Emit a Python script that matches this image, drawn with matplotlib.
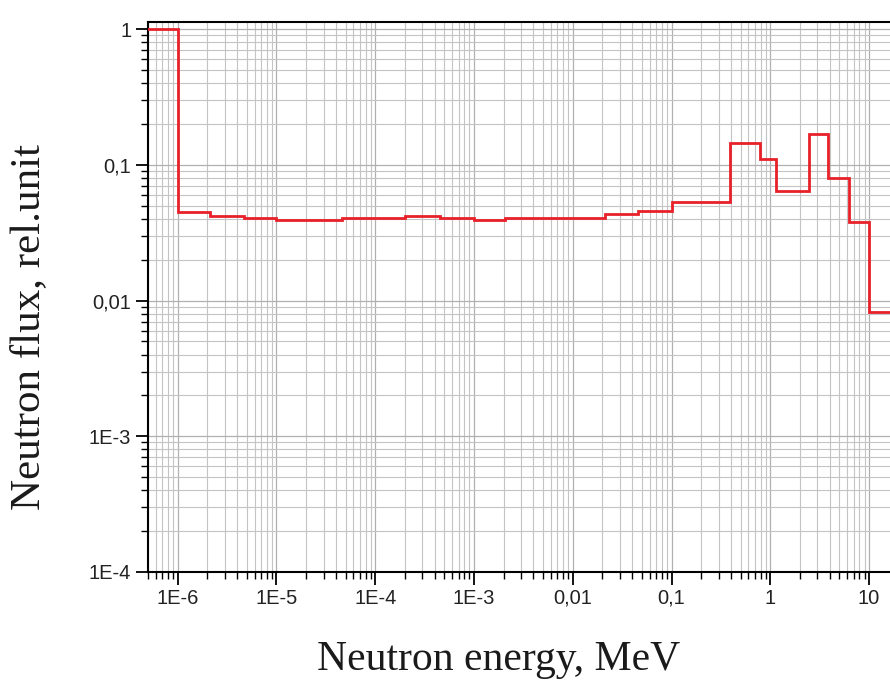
import matplotlib
matplotlib.use("Agg")
import matplotlib.pyplot as plt
import numpy as np
from matplotlib.ticker import LogLocator, FixedLocator, FixedFormatter, NullFormatter

# Group boundaries (MeV) and flux per group (relative units)
energy_edges = [1e-7, 1e-6, 2.1e-6, 4.7e-6, 1e-5, 4.6e-5, 2e-4, 4.5e-4, 1e-3, 2.06e-3,
                0.021, 0.046, 0.1, 0.39, 0.79, 1.15, 2.46, 3.86, 6.3, 10, 20]
flux = [1.0, 0.0448, 0.0417, 0.0403, 0.0393, 0.0407, 0.042, 0.0407, 0.0393, 0.0407,
        0.0435, 0.0456, 0.0531, 0.144, 0.110, 0.0637, 0.168, 0.0794, 0.038, 0.00817]

x_ticks = [1e-6, 1e-5, 1e-4, 1e-3, 1e-2, 1e-1, 1, 10]
x_ticklabels = ["1E-6", "1E-5", "1E-4", "1E-3", "0,01", "0,1", "1", "10"]
y_ticks = [1e-4, 1e-3, 1e-2, 1e-1, 1]
y_ticklabels = ["1E-4", "1E-3", "0,01", "0,1", "1"]

fig = plt.figure(figsize=(8.9, 6.82), dpi=100)
ax = fig.add_axes([0.1663, 0.1613, 0.8337, 0.8064])

ax.stairs(flux, energy_edges, color="#e8202a", linewidth=2.0, zorder=3)

ax.set_xscale("log")
ax.set_yscale("log")
ax.set_xlim(5e-7, 16.3)
ax.set_ylim(1e-4, 1.127)

ax.xaxis.set_major_locator(FixedLocator(x_ticks))
ax.xaxis.set_major_formatter(FixedFormatter(x_ticklabels))
ax.yaxis.set_major_locator(FixedLocator(y_ticks))
ax.yaxis.set_major_formatter(FixedFormatter(y_ticklabels))
ax.xaxis.set_minor_locator(LogLocator(base=10, subs=np.arange(2, 10), numticks=100))
ax.yaxis.set_minor_locator(LogLocator(base=10, subs=np.arange(2, 10), numticks=100))
ax.xaxis.set_minor_formatter(NullFormatter())
ax.yaxis.set_minor_formatter(NullFormatter())

ax.grid(True, which="major", color="#b0b0b0", linewidth=0.9)
ax.grid(True, which="minor", color="#c4c4c4", linewidth=0.8)
ax.set_axisbelow(True)

ax.spines["right"].set_visible(False)
for s in ["left", "bottom", "top"]:
    ax.spines[s].set_linewidth(1.5)

ax.tick_params(which="major", direction="out", length=9, width=1.3, labelsize=14.5,
               pad=3, labelcolor="#222222")
ax.tick_params(which="minor", direction="out", length=5, width=1.0)
for lab in ax.get_xticklabels() + ax.get_yticklabels():
    lab.set_fontfamily("Liberation Sans")

fig.text(499 / 890, 1 - 660 / 682, "Neutron energy, MeV", fontsize=30,
         family="Liberation Serif", ha="center", va="center", color="#1a1a1a")
fig.text(29 / 890, 1 - 327 / 682, "Neutron flux, rel.unit", fontsize=31,
         family="Liberation Serif", ha="center", va="center", rotation=90, color="#1a1a1a")

fig.savefig("out.png", dpi=100)
